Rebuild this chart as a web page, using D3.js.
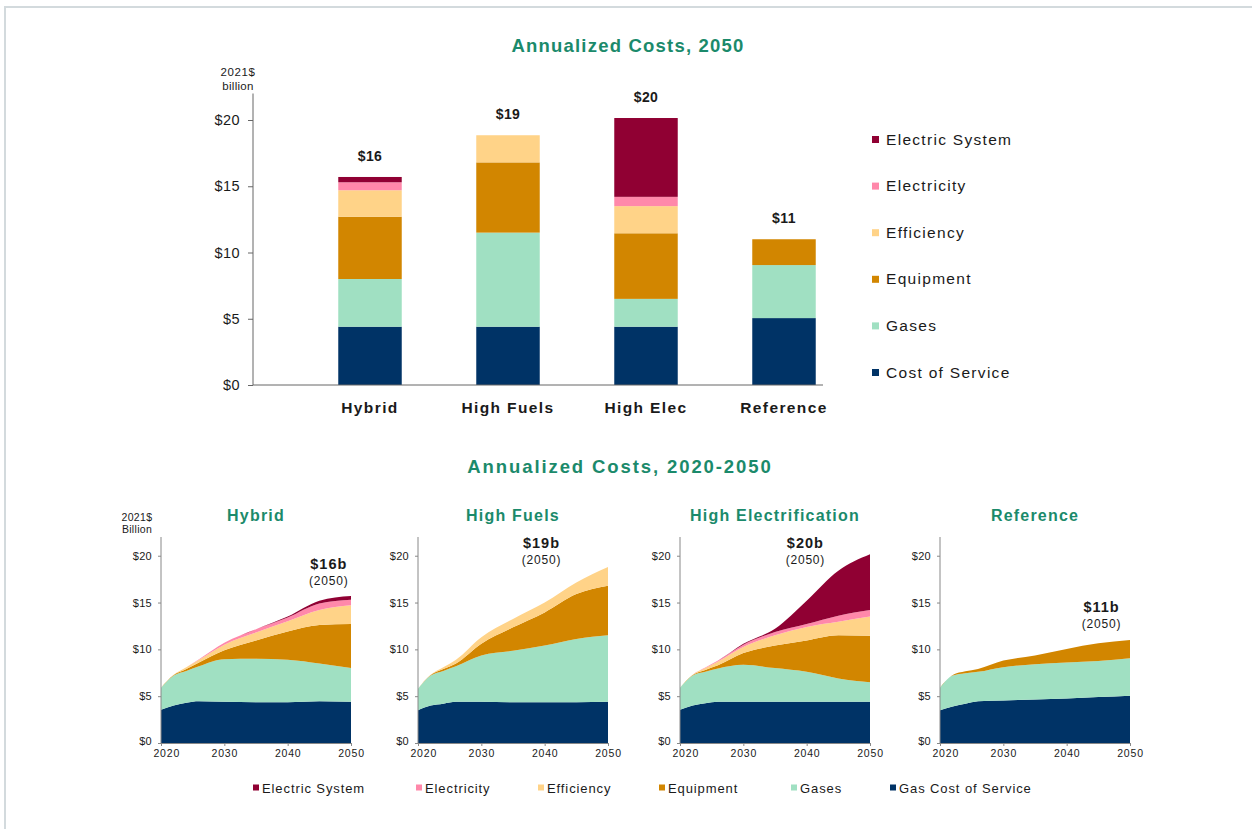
<!DOCTYPE html>
<html><head><meta charset="utf-8">
<script src="https://cdn.jsdelivr.net/npm/d3@7"></script>
<style>
body{margin:0;background:#fff}
svg{display:block}
text{font-family:"Liberation Sans",Arial,sans-serif}
</style>
</head><body>
<svg id="c" width="1252" height="829"></svg>
<script>
// ---------- DATA ----------
const seriesKeys   = ["Cost of Service","Gases","Equipment","Efficiency","Electricity","Electric System"];
const seriesColors = ["#003366","#a0e0c2","#d28600","#ffd388","#ff88aa","#900033"];
const topLegendLabels    = ["Electric System","Electricity","Efficiency","Equipment","Gases","Cost of Service"];
const bottomLegendLabels = ["Electric System","Electricity","Efficiency","Equipment","Gases","Gas Cost of Service"];

const barCategories      = ["Hybrid","High Fuels","High Elec","Reference"];
const barCostOfService   = [4.4, 4.4, 4.4, 5.05];
const barGases           = [3.6, 7.1, 2.1, 4.0];
const barEquipment       = [4.7, 5.3, 4.95, 1.95];
const barEfficiency      = [2.0, 2.05, 2.05, 0];
const barElectricity     = [0.6, 0, 0.7, 0];
const barElectricSystem  = [0.4, 0, 5.95, 0];
const barTotalLabels     = ["$16","$19","$20","$11"];

const yTicks     = [0, 5, 10, 15, 20];
const years      = [2020, 2022, 2024, 2026, 2030, 2035, 2040, 2045, 2050];
const yearTicks  = [2020, 2030, 2040, 2050];
const panelTitles      = ["Hybrid","High Fuels","High Electrification","Reference"];
const panelTotalLabels = ["$16b","$19b","$20b","$11b"];

const hybridCostOfService  = [3.55, 4.0, 4.3, 4.45, 4.4, 4.35, 4.35, 4.45, 4.4];
const hybridGases          = [2.35, 3.2, 3.4, 3.75, 4.55, 4.65, 4.55, 4.05, 3.6];
const hybridEquipment      = [0, 0.05, 0.2, 0.4, 0.95, 1.95, 3.0, 4.1, 4.7];
const hybridEfficiency     = [0, 0.05, 0.2, 0.3, 0.6, 0.85, 1.1, 1.6, 2.0];
const hybridElectricity    = [0, 0, 0, 0.05, 0.2, 0.35, 0.4, 0.7, 0.6];
const hybridElectricSystem = [0, 0, 0, 0, 0, 0, 0.1, 0.3, 0.4];

const fuelsCostOfService  = [3.5, 4.0, 4.2, 4.4, 4.4, 4.35, 4.35, 4.35, 4.4];
const fuelsGases          = [2.3, 3.2, 3.5, 3.8, 4.95, 5.5, 6.05, 6.75, 7.1];
const fuelsEquipment      = [0, 0.05, 0.2, 0.3, 1.25, 2.5, 3.55, 4.8, 5.3];
const fuelsEfficiency     = [0, 0.05, 0.2, 0.4, 0.7, 0.9, 1.05, 1.25, 2.0];
const fuelsElectricity    = [0, 0, 0, 0, 0, 0, 0, 0, 0];
const fuelsElectricSystem = [0, 0, 0, 0, 0, 0, 0, 0, 0];

const elecCostOfService  = [3.55, 4.0, 4.25, 4.4, 4.4, 4.4, 4.4, 4.4, 4.4];
const elecGases          = [2.35, 3.2, 3.35, 3.55, 3.95, 3.6, 3.2, 2.5, 2.1];
const elecEquipment      = [0, 0.05, 0.2, 0.35, 1.25, 2.4, 3.35, 4.6, 4.95];
const elecEfficiency     = [0, 0.05, 0.2, 0.4, 0.65, 1.1, 1.45, 1.45, 2.05];
const elecElectricity    = [0, 0, 0.05, 0.1, 0.25, 0.35, 0.3, 0.65, 0.7];
const elecElectricSystem = [0, 0, 0, 0, 0.1, 0.35, 2.5, 4.8, 5.95];

const refCostOfService  = [3.5, 3.9, 4.2, 4.45, 4.55, 4.65, 4.75, 4.9, 5.05];
const refGases          = [2.4, 3.3, 3.25, 3.15, 3.55, 3.75, 3.85, 3.85, 4.0];
const refEquipment      = [0, 0.05, 0.2, 0.3, 0.7, 0.95, 1.45, 1.9, 1.95];
const refEfficiency     = [0, 0, 0, 0, 0, 0, 0, 0, 0];
const refElectricity    = [0, 0, 0, 0, 0, 0, 0, 0, 0];
const refElectricSystem = [0, 0, 0, 0, 0, 0, 0, 0, 0];

// ---------- BUILD TABLES ----------
const barSeries = [barCostOfService, barGases, barEquipment, barEfficiency, barElectricity, barElectricSystem];
const barTable = barCategories.map((c, i) => {
  const o = {cat: c};
  seriesKeys.forEach((k, j) => o[k] = barSeries[j][i]);
  return o;
});
const panelSeries = [
  [hybridCostOfService, hybridGases, hybridEquipment, hybridEfficiency, hybridElectricity, hybridElectricSystem],
  [fuelsCostOfService, fuelsGases, fuelsEquipment, fuelsEfficiency, fuelsElectricity, fuelsElectricSystem],
  [elecCostOfService, elecGases, elecEquipment, elecEfficiency, elecElectricity, elecElectricSystem],
  [refCostOfService, refGases, refEquipment, refEfficiency, refElectricity, refElectricSystem]
];
const panelTables = panelSeries.map(ser => years.map((yr, i) => {
  const o = {year: yr};
  seriesKeys.forEach((k, j) => o[k] = ser[j][i]);
  return o;
}));

const color = d3.scaleOrdinal().domain(seriesKeys).range(seriesColors);
const stack = d3.stack().keys(seriesKeys);

// ---------- DRAW ----------
const svg = d3.select("#c");
const GREEN = "#1b8a6b";
const TXT = "#1a1a1a";
const FONT = "'Liberation Sans',Arial,sans-serif";

// frame
svg.append("line").attr("x1", 4).attr("x2", 1252).attr("y1", 7).attr("y2", 7)
  .attr("stroke", "#d3dadd").attr("stroke-width", 2);
svg.append("line").attr("x1", 5).attr("x2", 5).attr("y1", 7).attr("y2", 829)
  .attr("stroke", "#d3dadd").attr("stroke-width", 2);

// ===== Top chart =====
svg.append("text").attr("x", 628).attr("y", 52).attr("text-anchor", "middle")
  .attr("font-size", 18.5).attr("font-weight", "bold").attr("fill", GREEN)
  .attr("letter-spacing", 1.2).text("Annualized Costs, 2050");

const tAxisX = 253;
const tx = d3.scaleBand().domain(barCategories).range([301, 853]).paddingInner(0.54).paddingOuter(0.27);
const ty = d3.scaleLinear().domain([0, 22]).range([385, 93.5]);

const tg = svg.append("g");
tg.append("text").attr("x", 238).attr("y", 76).attr("text-anchor", "middle")
  .attr("font-size", 11.5).attr("letter-spacing", 0.6).attr("fill", TXT).text("2021$");
tg.append("text").attr("x", 238).attr("y", 90).attr("text-anchor", "middle")
  .attr("font-size", 11.5).attr("letter-spacing", 0.3).attr("fill", TXT).text("billion");

const barStack = stack(barTable);
tg.selectAll("g.layer").data(barStack).join("g").attr("class", "layer")
  .attr("fill", d => color(d.key))
  .selectAll("rect").data(d => d).join("rect")
  .attr("x", d => tx(d.data.cat))
  .attr("width", tx.bandwidth())
  .attr("y", d => ty(d[1]))
  .attr("height", d => Math.max(0, ty(d[0]) - ty(d[1])));

// y axis
const tyAxis = d3.axisLeft(ty).tickValues(yTicks).tickFormat(d => "$" + d).tickSize(5).tickPadding(8);
const tya = tg.append("g").attr("transform", `translate(${tAxisX},0)`).call(tyAxis);
tya.select(".domain").attr("stroke", "#666").attr("d", `M-0,${ty(22)}V${ty(0)}`);
tya.selectAll(".tick line").attr("stroke", "#666");
tya.selectAll(".tick text").attr("font-size", 14.5).attr("fill", TXT)
  .attr("letter-spacing", 0.4).attr("font-family", FONT);
// baseline
tg.append("line").attr("x1", tAxisX).attr("x2", 823).attr("y1", ty(0)).attr("y2", ty(0))
  .attr("stroke", "#666");
// category labels
tg.selectAll("text.cat").data(barCategories).join("text").attr("class", "cat")
  .attr("x", d => tx(d) + tx.bandwidth() / 2).attr("y", 413)
  .attr("text-anchor", "middle").attr("font-size", 15.5).attr("font-weight", "bold")
  .attr("letter-spacing", 1.4).attr("fill", TXT).text(d => d);
// totals
tg.selectAll("text.tot").data(barStack[barStack.length - 1]).join("text").attr("class", "tot")
  .attr("x", d => tx(d.data.cat) + tx.bandwidth() / 2)
  .attr("y", d => ty(d[1]) - 16)
  .attr("text-anchor", "middle").attr("font-size", 14).attr("font-weight", "bold")
  .attr("letter-spacing", 0.4).attr("fill", TXT).text((d, i) => barTotalLabels[i]);

// top legend
const tLegY0 = 139, tLegStep = 46.6;
topLegendLabels.forEach((lab, i) => {
  const key = seriesKeys[seriesKeys.length - 1 - i];
  const y = tLegY0 + i * tLegStep;
  tg.append("rect").attr("x", 872).attr("y", y - 3).attr("width", 7).attr("height", 7).attr("fill", color(key));
  tg.append("text").attr("x", 886).attr("y", y + 5.5).attr("font-size", 15.5)
    .attr("letter-spacing", 1.3).attr("fill", TXT).text(lab);
});

// ===== Bottom panels =====
svg.append("text").attr("x", 620).attr("y", 473).attr("text-anchor", "middle")
  .attr("font-size", 18.5).attr("font-weight", "bold").attr("fill", GREEN)
  .attr("letter-spacing", 1.9).text("Annualized Costs, 2020-2050");

const panelX0 = [161, 418, 680, 940];
const panelW = 190;
const annot = [{yr: 2046.5, v: 19.1}, {yr: 2039.5, v: 21.4}, {yr: 2039.8, v: 21.4}, {yr: 2045.5, v: 14.5}];
const py = d3.scaleLinear().domain([0, 22]).range([743, 537]);

panelTables.forEach((tbl, p) => {
  const x0 = panelX0[p];
  const px = d3.scaleLinear().domain([2020, 2050]).range([x0, x0 + panelW]);
  const g = svg.append("g");
  const st = stack(tbl);
  const area = d3.area().curve(d3.curveMonotoneX)
    .x(d => px(d.data.year)).y0(d => py(d[0])).y1(d => py(d[1]));
  g.selectAll("path.ar").data(st).join("path").attr("class", "ar")
    .attr("fill", d => color(d.key)).attr("d", area);

  const ya = g.append("g").attr("transform", `translate(${x0},0)`)
    .call(d3.axisLeft(py).tickValues(yTicks).tickFormat(d => "$" + d).tickSize(3).tickPadding(6));
  ya.select(".domain").attr("stroke", "#888").attr("d", `M-0,${py(22)}V${py(0)}`);
  ya.selectAll(".tick line").attr("stroke", "#888");
  ya.selectAll(".tick text").attr("font-size", 11).attr("fill", TXT)
    .attr("letter-spacing", 0.3).attr("font-family", FONT);
  ya.selectAll(".tick").filter(d => d === 0).select("text").attr("dy", "0.1em");

  const xa = g.append("g").attr("transform", `translate(0,${py(0)})`)
    .call(d3.axisBottom(px).tickValues(yearTicks).tickFormat(d3.format("d")).tickSize(3).tickPadding(4));
  xa.select(".domain").attr("stroke", "#888");
  xa.selectAll(".tick line").attr("stroke", "#888");
  xa.selectAll(".tick text").attr("font-size", 10.5).attr("fill", TXT)
    .attr("letter-spacing", 0.8).attr("font-family", FONT);
  xa.selectAll(".tick").filter(d => d === 2020).select("text").attr("dx", "0.5em");

  g.append("text").attr("x", x0 + panelW / 2).attr("y", 521).attr("text-anchor", "middle")
    .attr("font-size", 16).attr("font-weight", "bold").attr("fill", GREEN)
    .attr("letter-spacing", 1.2).text(panelTitles[p]);

  const ax = px(annot[p].yr), ay = py(annot[p].v);
  g.append("text").attr("x", ax).attr("y", ay + 5).attr("text-anchor", "middle")
    .attr("font-size", 14.5).attr("font-weight", "bold").attr("fill", TXT)
    .attr("letter-spacing", 1.0).text(panelTotalLabels[p]);
  g.append("text").attr("x", ax).attr("y", ay + 21).attr("text-anchor", "middle")
    .attr("font-size", 12).attr("letter-spacing", 0.8).attr("fill", TXT).text("(2050)");
});

svg.append("text").attr("x", 137).attr("y", 521).attr("text-anchor", "middle")
  .attr("font-size", 10.5).attr("letter-spacing", 0.4).attr("fill", TXT).text("2021$");
svg.append("text").attr("x", 137).attr("y", 533).attr("text-anchor", "middle")
  .attr("font-size", 10.5).attr("letter-spacing", 0.3).attr("fill", TXT).text("Billion");

// bottom legend
const bLegX = [262, 425, 547, 668, 800, 899];
bottomLegendLabels.forEach((lab, i) => {
  const key = seriesKeys[seriesKeys.length - 1 - i];
  svg.append("rect").attr("x", bLegX[i] - 9).attr("y", 784.5).attr("width", 6).attr("height", 6).attr("fill", color(key));
  svg.append("text").attr("x", bLegX[i]).attr("y", 792.5).attr("font-size", 13)
    .attr("letter-spacing", 0.9).attr("fill", TXT).text(lab);
});
</script>
</body></html>
